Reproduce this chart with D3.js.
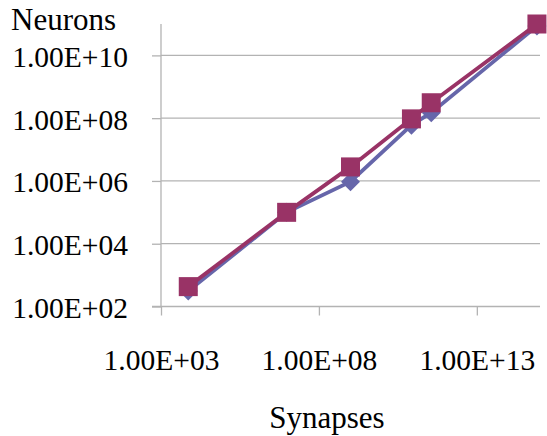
<!DOCTYPE html>
<html><head><meta charset="utf-8">
<script src="https://cdn.jsdelivr.net/npm/d3@7"></script>
<style>body{margin:0;background:#fff}svg{display:block}
svg text{font-family:"Liberation Serif";fill:#000}</style>
</head><body>
<svg id="c" width="547" height="436"></svg>
<script>
const synapses = [7.3e3, 9.5e6, 1.0e9, 8.5e10, 3.6e11, 8.0e14];
const neuronsA = [310, 1.0e5, 9.5e5, 6.0e7, 1.5e8, 8.6e10];
const neuronsB = [430, 1.0e5, 2.8e6, 9.5e7, 3.1e8, 1.0e11];
const xTicks = [1e3, 1e8, 1e13];
const yTicks = [1e2, 1e4, 1e6, 1e8, 1e10];
const xTitle = "Synapses", yTitle = "Neurons";

const svg = d3.select("#c");
const x = d3.scaleLog().domain([1e3, 1e15]).range([161, 540]);
const y = d3.scaleLog().domain([1e2, 1e11]).range([306.5, 24]);
const grey = "#b3b3b3";
const fmt = v => { const e = Math.round(Math.log10(v)); return "1.00E+" + (e < 10 ? "0" + e : e); };

// gridlines
svg.append("g").selectAll("line").data(yTicks.slice(1)).join("line")
  .attr("x1", 161).attr("x2", 540).attr("y1", d => y(d)).attr("y2", d => y(d))
  .attr("stroke", grey).attr("stroke-width", 1.3);

// y axis
const ya = svg.append("g").attr("transform", "translate(161,0)")
  .call(d3.axisLeft(y).tickValues(yTicks).tickFormat(fmt).tickSize(9).tickPadding(24));
ya.attr("font-family", null).attr("font-size", null);
ya.select(".domain").attr("stroke", grey).attr("stroke-width", 1.3).attr("d", "M0,24V306.5");
ya.selectAll(".tick line").attr("stroke", grey).attr("stroke-width", 1.3);
ya.selectAll("text").style("font-size", "29.5px").attr("dy", "0.37em");

// x axis
const xa = svg.append("g").attr("transform", "translate(0,306.5)")
  .call(d3.axisBottom(x).tickValues(xTicks).tickFormat(fmt).tickSize(9).tickPadding(0));
xa.attr("font-family", null).attr("font-size", null);
xa.select(".domain").attr("stroke", grey).attr("stroke-width", 1.3).attr("d", "M152,0H540");
xa.selectAll(".tick line").attr("stroke", grey).attr("stroke-width", 1.3);
xa.selectAll("text").style("font-size", "29.5px").attr("dy", null).attr("y", 63.5);

// titles
svg.append("text").attr("x", 11).attr("y", 30).text(yTitle).style("font-size", "31px");
svg.append("text").attr("x", 327).attr("y", 428.3).attr("text-anchor", "middle").text(xTitle).style("font-size", "31px");

const line = d3.line().x(d => x(d[0])).y(d => y(d[1]));
const dA = synapses.map((s, i) => [s, neuronsA[i]]);
const dB = synapses.map((s, i) => [s, neuronsB[i]]);
const cA = "#6666aa", cB = "#993366";

svg.append("path").datum(dA).attr("d", line).attr("fill", "none").attr("stroke", cA).attr("stroke-width", 3.8);
svg.append("g").selectAll("path").data(dA).join("path")
  .attr("transform", d => `translate(${x(d[0])},${y(d[1])})`)
  .attr("d", "M0,-9.5L9.5,0L0,9.5L-9.5,0Z").attr("fill", cA);

svg.append("path").datum(dB).attr("d", line).attr("fill", "none").attr("stroke", cB).attr("stroke-width", 3.8);
svg.append("g").selectAll("rect").data(dB).join("rect")
  .attr("x", d => x(d[0]) - 9.5).attr("y", d => y(d[1]) - 9.5)
  .attr("width", 19).attr("height", 19).attr("fill", cB);
</script>
</body></html>
